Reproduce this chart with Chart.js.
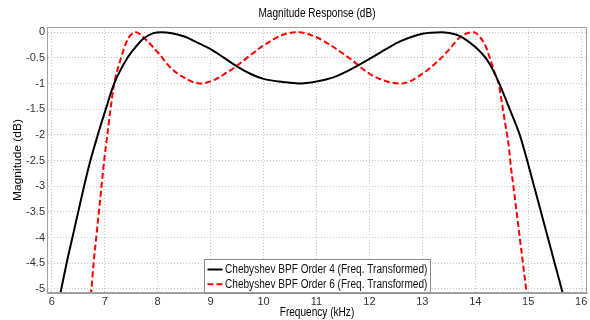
<!DOCTYPE html>
<html>
<head>
<meta charset="utf-8">
<script src="https://cdn.jsdelivr.net/npm/chart.js@4"></script>
<style>
  html, body { margin: 0; padding: 0; background: #fff; }
</style>
</head>
<body>
<canvas id="chart" width="590" height="320"></canvas>
<script>
const FONT = "'Liberation Sans', Arial, sans-serif";

const chartTitle = "Magnitude Response (dB)";
const xTitle = "Frequency (kHz)";
const yTitle = "Magnitude (dB)";
const xTicks = [6, 7, 8, 9, 10, 11, 12, 13, 14, 15, 16];
const yTicks = [0, -0.5, -1, -1.5, -2, -2.5, -3, -3.5, -4, -4.5, -5];

// order 4 (black solid)
const labelOrder4 = "Chebyshev BPF Order 4 (Freq. Transformed)";
const freqOrder4 = [6.12, 6.18, 6.28, 6.39, 6.50, 6.61, 6.73, 6.87, 7.02, 7.18, 7.43, 7.60, 7.74, 7.92, 8.07,
  8.49, 8.80, 9.00, 9.24, 9.49, 9.75, 10.00, 10.37, 10.66, 11.00, 11.32, 11.64, 12.00, 12.33, 12.58,
  13.00, 13.37, 13.65, 13.84, 14.00, 14.10, 14.21, 14.33, 14.44, 14.65, 14.84, 14.98, 15.11, 15.24, 15.37, 15.50, 15.63, 15.70];
const magOrder4 = [-5.3, -5.0, -4.5, -4.0, -3.5, -3.0, -2.5, -2.0, -1.5, -1.0, -0.5, -0.27, -0.12, -0.02, 0,
  -0.08, -0.23, -0.33, -0.49, -0.66, -0.81, -0.91, -0.97, -1.0, -0.96, -0.88, -0.73, -0.52, -0.32, -0.18,
  -0.03, 0, -0.05, -0.16, -0.29, -0.39, -0.52, -0.73, -0.97, -1.5, -2.0, -2.5, -3.0, -3.5, -4.0, -4.5, -5.0, -5.3];

// order 6 (red dashed)
const labelOrder6 = "Chebyshev BPF Order 6 (Freq. Transformed)";
const freqOrder6 = [6.72, 6.75, 6.79, 6.84, 6.89, 6.94, 6.99, 7.05, 7.11, 7.18, 7.31, 7.40, 7.48, 7.59,
  7.79, 7.92, 8.05, 8.23, 8.49, 8.80, 9.00, 9.24, 9.49, 9.75, 10.00, 10.37, 10.66,
  11.00, 11.32, 11.64, 12.00, 12.33, 12.61, 13.00, 13.34, 13.52, 13.71, 13.97,
  14.09, 14.19, 14.28, 14.38, 14.44, 14.50, 14.56, 14.63, 14.67, 14.72, 14.78, 14.84, 14.90, 14.96, 15.00];
const magOrder6 = [-5.3, -5.0, -4.5, -4.0, -3.5, -3.0, -2.5, -2.0, -1.5, -1.0, -0.5, -0.22, -0.07, 0,
  -0.16, -0.3, -0.45, -0.68, -0.88, -1.0, -0.96, -0.83, -0.66, -0.45, -0.26, -0.05, 0,
  -0.1, -0.29, -0.52, -0.81, -0.96, -1.0, -0.81, -0.52, -0.32, -0.1, 0,
  -0.1, -0.26, -0.52, -0.84, -1.0, -1.36, -1.75, -2.2, -2.6, -3.0, -3.5, -4.0, -4.5, -5.0, -5.3];

const toPoints = (xs, ys) => xs.map((x, i) => ({ x: x, y: ys[i] }));

const SQUEEZE = 0.84; // the reference lettering is horizontally narrow

function narrowText(ctx, text, x, y, align, angle) {
  ctx.save();
  ctx.translate(x, y);
  ctx.scale(SQUEEZE, 1);
  if (angle) ctx.rotate(angle);
  ctx.textAlign = align;
  ctx.textBaseline = 'middle';
  ctx.fillText(text, 0, 0);
  ctx.restore();
}

// titles, boxed legend inside the plot and the plot frame
const matlabDecor = {
  id: 'matlabDecor',
  afterDraw(chart) {
    const { ctx, chartArea } = chart;
    const sets = chart.data.datasets;
    const midX = (chartArea.left + chartArea.right) / 2;
    ctx.save();
    ctx.font = '12px ' + FONT;
    ctx.fillStyle = '#000';
    narrowText(ctx, chartTitle, midX, 14, 'center');
    narrowText(ctx, xTitle, midX, 313, 'center');
    narrowText(ctx, yTitle, 18.5, (chartArea.top + chartArea.bottom) / 2, 'center', -Math.PI / 2);

    const textW = Math.max(...sets.map(d => ctx.measureText(d.label).width)) * SQUEEZE;
    const rowH = 14.7, padX = 3, sampleW = 15, gap = 2.5;
    const w = Math.round(padX + sampleW + gap + textW + padX);
    const h = 34;
    const x0 = Math.round(midX - w / 2) + 0.5;
    const y0 = Math.round(chartArea.bottom - h) + 0.5;
    ctx.fillStyle = '#fff';
    ctx.fillRect(x0, y0, w, h);
    ctx.strokeStyle = '#8a8a8a';
    ctx.lineWidth = 1;
    ctx.strokeRect(x0, y0, w, h);
    sets.forEach((d, i) => {
      const cy = y0 + 10 + rowH * i;
      ctx.strokeStyle = d.borderColor;
      ctx.lineWidth = 2;
      ctx.setLineDash(d.borderDash || []);
      ctx.beginPath();
      ctx.moveTo(x0 + padX, cy);
      ctx.lineTo(x0 + padX + sampleW, cy);
      ctx.stroke();
      ctx.setLineDash([]);
      ctx.fillStyle = '#111';
      narrowText(ctx, d.label, x0 + padX + sampleW + gap, cy, 'left');
    });

    ctx.strokeStyle = '#a0a0a0';
    ctx.lineWidth = 1;
    ctx.strokeRect(Math.round(chartArea.left) + 0.5, Math.round(chartArea.top) + 0.5,
      Math.round(chartArea.right - chartArea.left) - 1, Math.round(chartArea.bottom - chartArea.top) - 1);
    ctx.restore();
  }
};

const canvas = document.getElementById('chart');
new Chart(canvas, {
  type: 'line',
  data: {
    datasets: [
      {
        label: labelOrder4,
        data: toPoints(freqOrder4, magOrder4),
        borderColor: '#000',
        borderWidth: 2,
        pointRadius: 0,
        cubicInterpolationMode: 'monotone',
        clip: 0
      },
      {
        label: labelOrder6,
        data: toPoints(freqOrder6, magOrder6),
        borderColor: '#f00',
        borderWidth: 2,
        borderDash: [6, 3],
        pointRadius: 0,
        cubicInterpolationMode: 'monotone',
        clip: 0
      }
    ]
  },
  options: {
    responsive: false,
    animation: false,
    devicePixelRatio: 1,
    layout: { padding: { left: 0, right: 3, top: 27, bottom: 0 } },
    plugins: {
      legend: { display: false },
      tooltip: { enabled: false },
      title: { display: false }
    },
    scales: {
      x: {
        type: 'linear',
        min: 5.91,
        max: 16.11,
        afterBuildTicks: s => { s.ticks = xTicks.map(v => ({ value: v })); },
        afterFit: s => { s.height = 27; },
        ticks: {
          color: '#333',
          padding: 2,
          maxRotation: 0,
          font: { family: FONT, size: 11 },
          callback: v => String(v)
        },
        grid: { color: '#c4c4c4', lineWidth: 1, drawTicks: false },
        border: { color: '#a0a0a0', dash: [1, 2] }
      },
      y: {
        type: 'linear',
        min: -5.08,
        max: 0.1,
        afterBuildTicks: s => { s.ticks = yTicks.map(v => ({ value: v })); },
        afterFit: s => { s.width = 47; },
        ticks: {
          color: '#333',
          padding: 2,
          font: { family: FONT, size: 11 },
          callback: v => String(v)
        },
        grid: { color: '#c4c4c4', lineWidth: 1, drawTicks: false },
        border: { color: '#a0a0a0', dash: [1, 2] }
      }
    }
  },
  plugins: [matlabDecor]
});
</script>
</body>
</html>
